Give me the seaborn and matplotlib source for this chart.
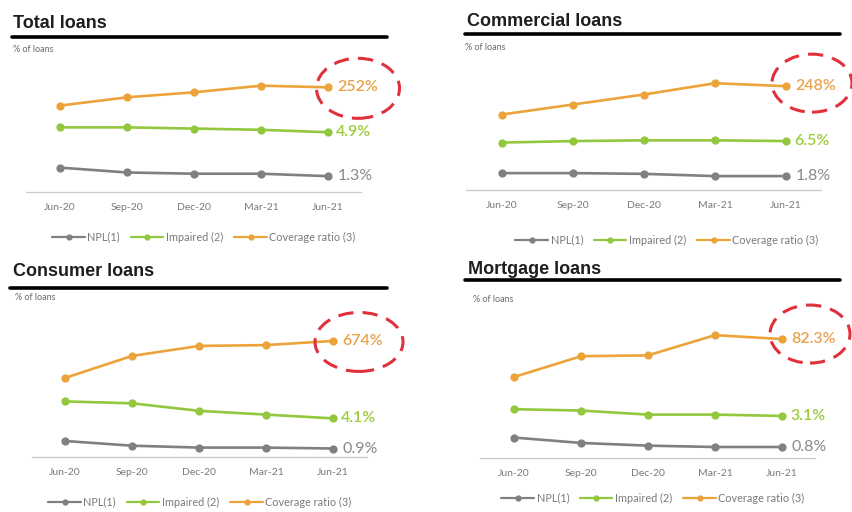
import numpy as np
import pandas as pd
import matplotlib
matplotlib.use("Agg")
import matplotlib.pyplot as plt
import seaborn as sns
from matplotlib.lines import Line2D
from matplotlib.patches import Ellipse

# data (% of loans, coverage in %)
quarters = ["Jun-20", "Sep-20", "Dec-20", "Mar-21", "Jun-21"]
series_names = ["NPL(1)", "Impaired (2)", "Coverage ratio (3)"]

total_npl = [2.0, 1.6, 1.5, 1.5, 1.3]
total_impaired = [5.3, 5.3, 5.2, 5.1, 4.9]
total_coverage = [208, 228, 240, 256, 252]

commercial_npl = [2.2, 2.2, 2.1, 1.8, 1.8]
commercial_impaired = [6.3, 6.5, 6.6, 6.6, 6.5]
commercial_coverage = [180, 204, 228, 255, 248]

consumer_npl = [1.7, 1.2, 1.0, 1.0, 0.9]
consumer_impaired = [5.9, 5.7, 4.9, 4.5, 4.1]
consumer_coverage = [459, 587, 645, 650, 674]

mortgage_npl = [1.5, 1.1, 0.9, 0.8, 0.8]
mortgage_impaired = [3.6, 3.5, 3.2, 3.2, 3.1]
mortgage_coverage = [56.0, 70.4, 71.0, 85.0, 82.3]

panels = [
    ("Total loans", total_npl, total_impaired, total_coverage, "{:.0f}%"),
    ("Commercial loans", commercial_npl, commercial_impaired, commercial_coverage, "{:.0f}%"),
    ("Consumer loans", consumer_npl, consumer_impaired, consumer_coverage, "{:.0f}%"),
    ("Mortgage loans", mortgage_npl, mortgage_impaired, mortgage_coverage, "{:.1f}%"),
]

# layout in pixels of the 853x512 slide
W, H = 853, 512
AX_H = 130
layout = [
    dict(ax=(26.5, 361.5, 192), title=(13, 23), rule=(12, 387, 37), sub=(13, 50),
         legend=(204, 237), ell=(30, 1, 83, 60), ylim1=10.66, ylim2=313),
    dict(ax=(466.5, 821.5, 189.5), title=(467, 22), rule=(465, 840, 34), sub=(465, 48),
         legend=(667, 240), ell=(26, -3, 80, 58), ylim1=17.45, ylim2=312),
    dict(ax=(31.5, 366.5, 457), title=(13, 272), rule=(10, 387, 288), sub=(15, 298),
         legend=(200, 502), ell=(26, 1, 88, 59), ylim1=13.8, ylim2=755),
    dict(ax=(480.5, 815.5, 457.8), title=(468, 269), rule=(465, 840, 280), sub=(473, 300),
         legend=(653, 498), ell=(28, -5, 80, 58), ylim1=9.63, ylim2=90.1),
]

colors = {"NPL(1)": "#808080", "Impaired (2)": "#92c83e", "Coverage ratio (3)": "#eca43a"}
label_colors = {"NPL(1)": "#8a8a8a", "Impaired (2)": "#9ccc3c", "Coverage ratio (3)": "#e9a24c"}

sns.set_theme(style="white")
plt.rcParams["font.family"] = ["Lato", "DejaVu Sans"]


def fx(px):
    return px / W


def fy(py):
    return 1 - py / H


fig = plt.figure(figsize=(W / 100, H / 100), dpi=100)
fig.patch.set_facecolor("white")

for (title, npl, impaired, coverage, cov_fmt), g in zip(panels, layout):
    left, right, bottom = g["ax"]
    ax = fig.add_axes([fx(left), fy(bottom), (right - left) / W, AX_H / H])

    df = pd.DataFrame({
        "quarter": quarters * 2,
        "series": [series_names[0]] * 5 + [series_names[1]] * 5,
        "value": npl + impaired,
    })
    sns.pointplot(data=df, x="quarter", y="value", hue="series", order=quarters,
                  palette=colors, markers="o", markersize=4.5, linewidth=1.9,
                  errorbar=None, legend=False, ax=ax)

    ax2 = ax.twinx()
    df_cov = pd.DataFrame({"quarter": quarters, "series": series_names[2], "value": coverage})
    sns.pointplot(data=df_cov, x="quarter", y="value", hue="series", order=quarters,
                  palette=colors, markers="o", markersize=4.5, linewidth=1.9,
                  errorbar=None, legend=False, ax=ax2)

    for a, top in ((ax, g["ylim1"]), (ax2, g["ylim2"])):
        a.set_xlim(-0.5, 4.5)
        a.set_ylim(0, top)
        a.set_yticks([])
        a.set(xlabel="", ylabel="")
        for line in a.lines:
            line.set_clip_on(False)
        for coll in a.collections:
            coll.set_clip_on(False)

    for s in ("top", "left", "right"):
        ax.spines[s].set_visible(False)
    ax.spines["bottom"].set_color("#c8c8c8")
    ax.spines["bottom"].set_linewidth(0.9)
    for s in ax2.spines.values():
        s.set_visible(False)
    ax.patch.set_visible(False)
    ax.tick_params(axis="x", length=0, labelsize=7.5, labelcolor="#7a7a7a", pad=8)

    # end-of-line value labels
    last = len(quarters) - 1
    ax.annotate(f"{npl[-1]:.1f}%", xy=(last, npl[-1]), xytext=(7, 0), textcoords="offset points",
                ha="left", va="center", fontsize=11.5, color=label_colors["NPL(1)"])
    ax.annotate(f"{impaired[-1]:.1f}%", xy=(last, impaired[-1]), xytext=(6, 0),
                textcoords="offset points", ha="left", va="center", fontsize=11.5,
                color=label_colors["Impaired (2)"], fontweight="semibold")
    ax2.annotate(cov_fmt.format(coverage[-1]), xy=(last, coverage[-1]), xytext=(7, 0),
                 textcoords="offset points", ha="left", va="center", fontsize=11.5,
                 color=label_colors["Coverage ratio (3)"], fontweight="semibold")

    # red dashed highlight around the coverage ratio
    dx, dy, ew, eh = g["ell"]
    cx, cy = fig.transFigure.inverted().transform(ax2.transData.transform((last, coverage[-1])))
    fig.add_artist(Ellipse((cx + dx / W, cy - dy / H), ew / W, eh / H, transform=fig.transFigure,
                           fill=False, edgecolor="#e0303c", linewidth=2.2, linestyle=(0, (5, 3))))

    # panel title, rule and unit
    tx, ty = g["title"]
    fig.text(fx(tx), fy(ty), title, fontsize=13, fontweight="bold", family="Liberation Sans",
             color="#1e1e1e", ha="left", va="center")
    x0, x1, ry = g["rule"]
    fig.add_artist(Line2D([fx(x0), fx(x1)], [fy(ry), fy(ry)], color="black", linewidth=2.6,
                          transform=fig.transFigure))
    sx, sy = g["sub"]
    fig.text(fx(sx), fy(sy), "% of loans", fontsize=6.5, color="#6a6a6a", ha="left", va="center")

    handles = [Line2D([0], [0], color=colors[n], lw=1.6, marker="o", markersize=3.5)
               for n in series_names]
    lx, ly = g["legend"]
    ax.legend(handles, series_names, loc="center", bbox_to_anchor=(fx(lx), fy(ly)),
              bbox_transform=fig.transFigure, ncol=3, frameon=False, fontsize=7.8,
              handlelength=3.0, handletextpad=0.25, columnspacing=1.0, numpoints=1,
              labelcolor="#7a7a7a")

fig.savefig("out.png", dpi=100, facecolor="white")
